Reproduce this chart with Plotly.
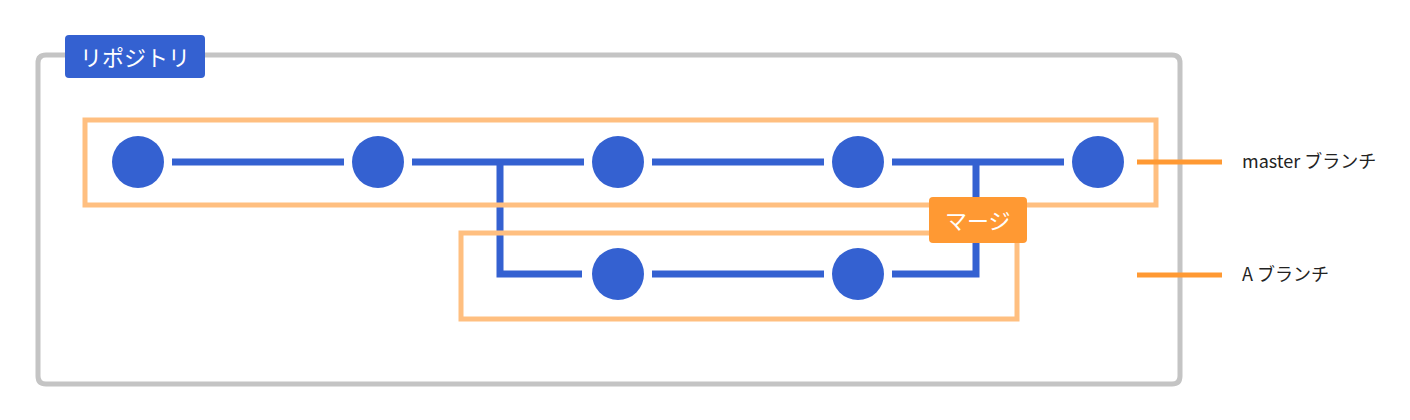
import plotly.graph_objects as go

# diagram data: commit slots per branch
master_commits = [0, 1, 2, 3, 4]
a_commits = [2, 3]
branch_labels = ["master ブランチ", "A ブランチ"]
repo_label = "リポジトリ"
merge_label = "マージ"

BLUE = "#3461d1"
ORANGE = "#ff9933"
LIGHT_OR = "#ffbf80"
GRAY = "#c4c4c4"
FONT = "Noto Sans CJK JP"

def sx(i):
    return 138 + 240 * i

Y_M, Y_A = 162, 274
fig = go.Figure()

# repository frame and branch boxes
fig.add_shape(type="path", path="M 46 55 L 1172 55 Q 1180 55 1180 63 L 1180 376 Q 1180 384 1172 384 L 46 384 Q 38 384 38 376 L 38 63 Q 38 55 46 55 Z",
              line=dict(color=GRAY, width=5))
fig.add_shape(type="rect", x0=85, x1=1156, y0=120, y1=205, line=dict(color=LIGHT_OR, width=5))
fig.add_shape(type="rect", x0=461, x1=1017, y0=233, y1=319, line=dict(color=LIGHT_OR, width=5))

# connections
line = dict(color=BLUE, width=7)
for a, b in zip(master_commits[:-1], master_commits[1:]):
    fig.add_trace(go.Scatter(x=[sx(a) + 34, sx(b) - 34], y=[Y_M, Y_M], mode="lines", line=line))
for a, b in zip(a_commits[:-1], a_commits[1:]):
    fig.add_trace(go.Scatter(x=[sx(a) + 34, sx(b) - 34], y=[Y_A, Y_A], mode="lines", line=line))
bx = (sx(1) + sx(2)) / 2 + 2
fig.add_trace(go.Scatter(x=[bx, bx, sx(a_commits[0]) - 36], y=[Y_M, Y_A, Y_A], mode="lines", line=line))
mx = (sx(3) + sx(4)) / 2 - 2
fig.add_trace(go.Scatter(x=[sx(a_commits[-1]) + 34, mx, mx], y=[Y_A, Y_A, Y_M], mode="lines", line=line))

# commits
fig.add_trace(go.Scatter(x=[sx(i) for i in master_commits], y=[Y_M] * len(master_commits),
                         mode="markers", marker=dict(size=52, color=BLUE)))
fig.add_trace(go.Scatter(x=[sx(i) for i in a_commits], y=[Y_A] * len(a_commits),
                         mode="markers", marker=dict(size=52, color=BLUE)))

# labels
fig.add_shape(type="path", path="M 69 35 L 201 35 Q 205 35 205 39 L 205 74 Q 205 78 201 78 L 69 78 Q 65 78 65 74 L 65 39 Q 65 35 69 35 Z",
              fillcolor=BLUE, line=dict(width=0))
fig.add_annotation(x=135, y=56, text=repo_label, showarrow=False, font=dict(family=FONT, size=22, color="white"))
fig.add_shape(type="path", path="M 933 197 L 1023 197 Q 1027 197 1027 201 L 1027 239 Q 1027 243 1023 243 L 933 243 Q 929 243 929 239 L 929 201 Q 929 197 933 197 Z",
              fillcolor=ORANGE, line=dict(width=0))
fig.add_annotation(x=978, y=219, text=merge_label, showarrow=False, font=dict(family=FONT, size=22, color="white"))

# legend
for yy, lab in zip([Y_M, Y_A + 1], branch_labels):
    fig.add_shape(type="line", x0=1137, x1=1222, y0=yy, y1=yy, line=dict(color=ORANGE, width=5))
    fig.add_annotation(x=1240, y=yy - 2, text=lab, showarrow=False, xanchor="left",
                       font=dict(family=FONT, size=18, color="#222"))

# page body has an 8px margin, so shift the view to line up with the window
fig.update_layout(width=1410, height=420, margin=dict(l=0, r=0, t=0, b=0), showlegend=False,
                  plot_bgcolor="white", paper_bgcolor="white",
                  xaxis=dict(range=[8, 1418], visible=False, fixedrange=True),
                  yaxis=dict(range=[428, 8], visible=False, fixedrange=True))
fig.write_html("out.html")
